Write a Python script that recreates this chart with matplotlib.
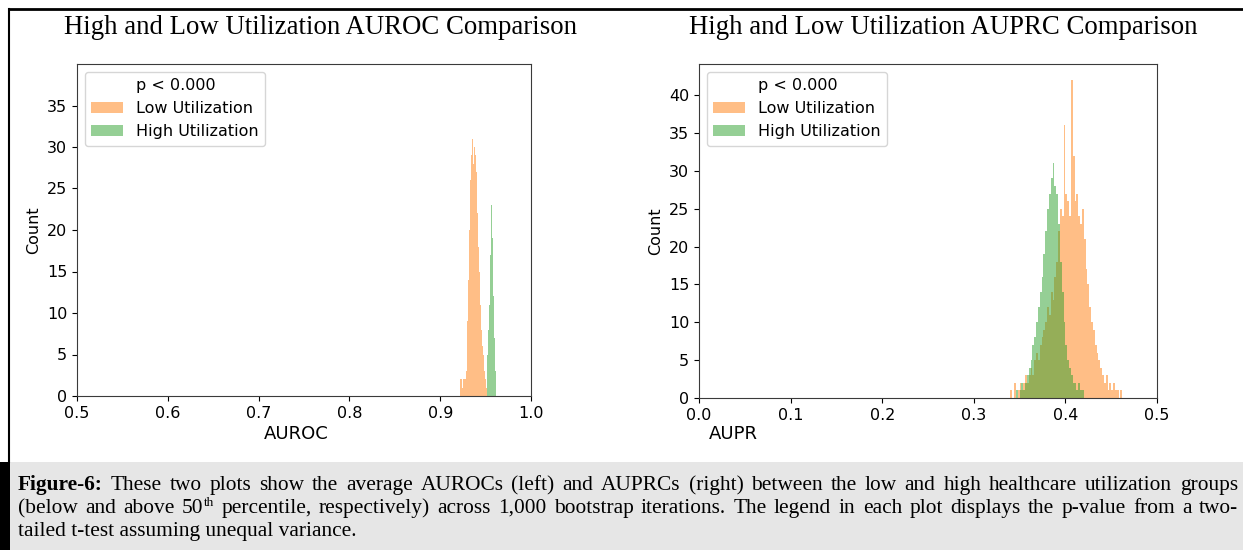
import numpy as np
import matplotlib
matplotlib.use("Agg")
import matplotlib.pyplot as plt
from matplotlib.patches import Rectangle
from matplotlib.lines import Line2D

# ---------------- data ----------------
titles = ["High and Low Utilization AUROC Comparison",
          "High and Low Utilization AUPRC Comparison"]
xlabels = ["AUROC", "AUPR"]
ylabel = "Count"
legend_title_entry = "p < 0.000"
series_labels = ["Low Utilization", "High Utilization"]

auroc_xticks = [0.5, 0.6, 0.7, 0.8, 0.9, 1.0]
auroc_yticks = [0, 5, 10, 15, 20, 25, 30, 35]
aupr_xticks = [0.0, 0.1, 0.2, 0.3, 0.4, 0.5]
aupr_yticks = [0, 5, 10, 15, 20, 25, 30, 35, 40]

# AUROC histograms (bin start, bin width, counts)
auroc_low_start, auroc_low_width = 0.922, 0.001
auroc_low_counts = [2, 2, 1, 2, 2, 2, 3, 5, 9, 14, 20, 26, 29, 31, 28, 30, 29,
                    27, 25, 22, 18, 15, 11, 8, 6, 5, 3, 2, 1, 1]
auroc_high_start, auroc_high_width = 0.951, 0.001
auroc_high_counts = [2, 5, 8, 11, 17, 23, 19, 12, 7, 3, 1]

# AUPR histograms
aupr_low_start, aupr_low_width = 0.340, 0.002
aupr_low_counts = [1, 0, 2, 0, 1, 2, 1, 2, 3, 2, 3, 4, 3, 5, 6, 5, 7, 8, 9, 10,
                   12, 11, 14, 13, 16, 18, 22, 25, 24, 36, 27, 26, 24, 42, 32,
                   26, 27, 24, 23, 25, 21, 17, 15, 12, 10, 9, 7, 6, 5, 4, 3, 2,
                   3, 1, 2, 1, 2, 1, 1, 0, 1]
aupr_high_start, aupr_high_width = 0.346, 0.002
aupr_high_counts = [1, 0, 1, 2, 1, 2, 3, 4, 5, 7, 8, 10, 12, 14, 16, 19, 22, 25,
                    27, 29, 31, 28, 27, 23, 18, 14, 10, 7, 5, 4, 3, 2, 2, 1, 2,
                    1, 1]

caption_label = "Figure-6:"
caption_line1 = ("These two plots show the average AUROCs (left) and AUPRCs (right) "
                 "between the low and high healthcare utilization groups")
caption_line2a = "(below and above 50"
caption_sup = "th"
caption_line2b = ("percentile, respectively) across 1,000 bootstrap iterations. The "
                  "legend in each plot displays the p-value from a two-")
caption_line3 = "tailed t-test assuming unequal variance."

# ---------------- figure ----------------
W, H = 1243, 550
fig = plt.figure(figsize=(W / 100, H / 100), dpi=100)
fig.patch.set_facecolor("white")


def fx(px):
    return px / W


def fy(py):
    return 1 - py / H


LOW_C = "tab:orange"
HIGH_C = "tab:green"
FS = 11.5
XL_FS = 13


def edges(start, width, counts):
    return start + width * np.arange(len(counts) + 1)


def make_ax(rect, low, high, xlim, ylim, xt, yt, title_x, title, xlabel,
            xlabel_coords):
    ax = fig.add_axes(rect)
    ax.stairs(low[2], edges(low[0], low[1], low[2]), fill=True,
              color=LOW_C, alpha=0.5, label=series_labels[0])
    ax.stairs(high[2], edges(high[0], high[1], high[2]), fill=True,
              color=HIGH_C, alpha=0.5, label=series_labels[1])
    ax.plot([], [], " ", label=legend_title_entry)
    ax.set_xlim(*xlim)
    ax.set_ylim(*ylim)
    ax.set_xticks(xt)
    ax.set_yticks(yt)
    ax.tick_params(labelsize=FS)
    ax.set_ylabel(ylabel, fontsize=FS)
    ax.set_xlabel(xlabel, fontsize=XL_FS)
    ax.xaxis.set_label_coords(*xlabel_coords)
    for s in ax.spines.values():
        s.set_color("#3a3a3a")
    h, l = ax.get_legend_handles_labels()
    order = [2, 0, 1]
    ax.legend([h[i] for i in order], [l[i] for i in order], loc="upper left",
              fontsize=FS)
    fig.text(fx(title_x), fy(27), title, ha="center", va="center",
             family="Liberation Serif", fontsize=19.3)
    return ax


ax1 = make_ax([fx(77), fy(396), fx(531) - fx(77), fy(64) - fy(396)],
              (auroc_low_start, auroc_low_width, auroc_low_counts),
              (auroc_high_start, auroc_high_width, auroc_high_counts),
              (0.5, 1.0), (0, 40), auroc_xticks, auroc_yticks, 321,
              titles[0], xlabels[0], (0.482, -0.087))
ax2 = make_ax([fx(699), fy(398), fx(1157) - fx(699), fy(64) - fy(398)],
              (aupr_low_start, aupr_low_width, aupr_low_counts),
              (aupr_high_start, aupr_high_width, aupr_high_counts),
              (0.0, 0.5), (0, 44.1), aupr_xticks, aupr_yticks, 943,
              titles[1], xlabels[1], (0.074, -0.081))

# page frame
fig.add_artist(Line2D([fx(9), 1], [fy(9), fy(9)], color="black", lw=2))
fig.add_artist(Line2D([fx(9), fx(9)], [fy(9), fy(462)], color="black", lw=1.5))
# caption box
fig.add_artist(Rectangle((0, 0), 1, fy(462), facecolor="#e6e6e6",
                         edgecolor="none", transform=fig.transFigure))
fig.add_artist(Rectangle((0, 0), fx(10), fy(462), facecolor="black",
                         edgecolor="none", transform=fig.transFigure))

CAP_FS = 15.4
SERIF = "Liberation Serif"
renderer = fig.canvas.get_renderer()


def justify(word_runs, y_px, x0=18, x1=1238):
    # word_runs: list of words; each word = list of (text, kwargs, raise_px)
    arts, widths = [], []
    for word in word_runs:
        wa, ww = [], 0
        for t, kw, dy in word:
            a = fig.text(0, fy(y_px), t, family=SERIF, va="baseline", ha="left",
                         **{"fontsize": CAP_FS, **kw})
            w = a.get_window_extent(renderer).width
            wa.append((a, ww, dy))
            ww += w
        arts.append(wa)
        widths.append(ww)
    gap = (x1 - x0 - sum(widths)) / (len(word_runs) - 1)
    x = x0
    for wa, ww in zip(arts, widths):
        for a, off, dy in wa:
            a.set_position((fx(x + off), fy(y_px - dy)))
        x += ww + gap


line1 = [[(caption_label, {"weight": "bold"}, 0)]] + \
    [[(w, {}, 0)] for w in caption_line1.split()]
w2a = caption_line2a.split()
line2 = [[(w, {}, 0)] for w in w2a[:-1]]
line2 += [[(w2a[-1], {}, 0), (caption_sup, {"fontsize": CAP_FS * 0.62}, 7)]]
line2 += [[(w, {}, 0)] for w in caption_line2b.split()]
justify(line1, 490)
justify(line2, 513)
fig.text(fx(18), fy(536), caption_line3, family=SERIF, fontsize=CAP_FS,
         va="baseline", ha="left")

fig.savefig("out.png", dpi=100)
